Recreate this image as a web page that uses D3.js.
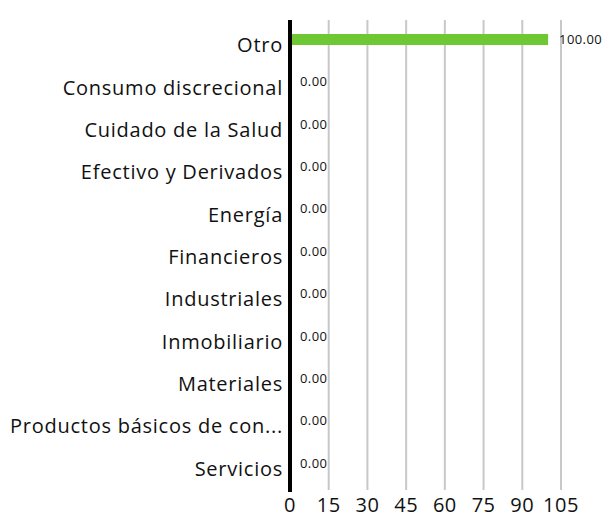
<!DOCTYPE html>
<html><head><meta charset="utf-8">
<script src="https://cdn.jsdelivr.net/npm/d3@7"></script>
<style>body{margin:0;background:#fff}svg{display:block}</style>
</head><body>
<script>
const categories = ["Otro","Consumo discrecional","Cuidado de la Salud","Efectivo y Derivados","Energía","Financieros","Industriales","Inmobiliario","Materiales","Productos básicos de con...","Servicios"];
const values = [100,0,0,0,0,0,0,0,0,0,0];
const valueLabels = ["100.00","0.00","0.00","0.00","0.00","0.00","0.00","0.00","0.00","0.00","0.00"];
const tickValues = [0,15,30,45,60,75,90,105];

const W=606,H=518;
const svg=d3.select("body").append("svg").attr("width",W).attr("height",H);
const font="'Open Sans', sans-serif";
const x=d3.scaleLinear().domain([0,105]).range([290,561]);
const y=d3.scaleBand().domain(categories).range([24,490]);

// gridlines
svg.append("g").selectAll("line").data(tickValues.slice(1)).join("line")
  .attr("x1",d=>x(d)).attr("x2",d=>x(d)).attr("y1",20).attr("y2",490)
  .attr("stroke","#c8c8c8").attr("stroke-width",2);

// bars
svg.append("g").selectAll("rect").data(values).join("rect")
  .attr("x",x(0)).attr("y",(d,i)=>y(categories[i])+10).attr("height",11)
  .attr("width",d=>x(d)-x(0)).attr("fill","#6ec833");

// value labels
svg.append("g").selectAll("text").data(values).join("text")
  .attr("x",d=>x(d)+(d>0?11:10)).attr("y",(d,i)=>y(categories[i])+15)
  .attr("dominant-baseline","central")
  .attr("font-family",font).attr("font-size",13).attr("letter-spacing",0.4).attr("fill","#111")
  .text((d,i)=>valueLabels[i]);

// category labels
svg.append("g").selectAll("text").data(categories).join("text")
  .attr("x",283).attr("y",d=>y(d)+y.bandwidth()/2+7)
  .attr("text-anchor","end")
  .attr("font-family",font).attr("font-size",20).attr("letter-spacing",0.75).attr("fill","#111")
  .text(d=>d);

// axis line
svg.append("line").attr("x1",290).attr("x2",290).attr("y1",20).attr("y2",492)
  .attr("stroke","#000").attr("stroke-width",4);

// x tick labels
svg.append("g").selectAll("text").data(tickValues).join("text")
  .attr("x",d=>x(d)).attr("y",512)
  .attr("text-anchor","middle")
  .attr("font-family",font).attr("font-size",20).attr("letter-spacing",0.5).attr("fill","#111")
  .text(d=>d);
</script>
</body></html>
